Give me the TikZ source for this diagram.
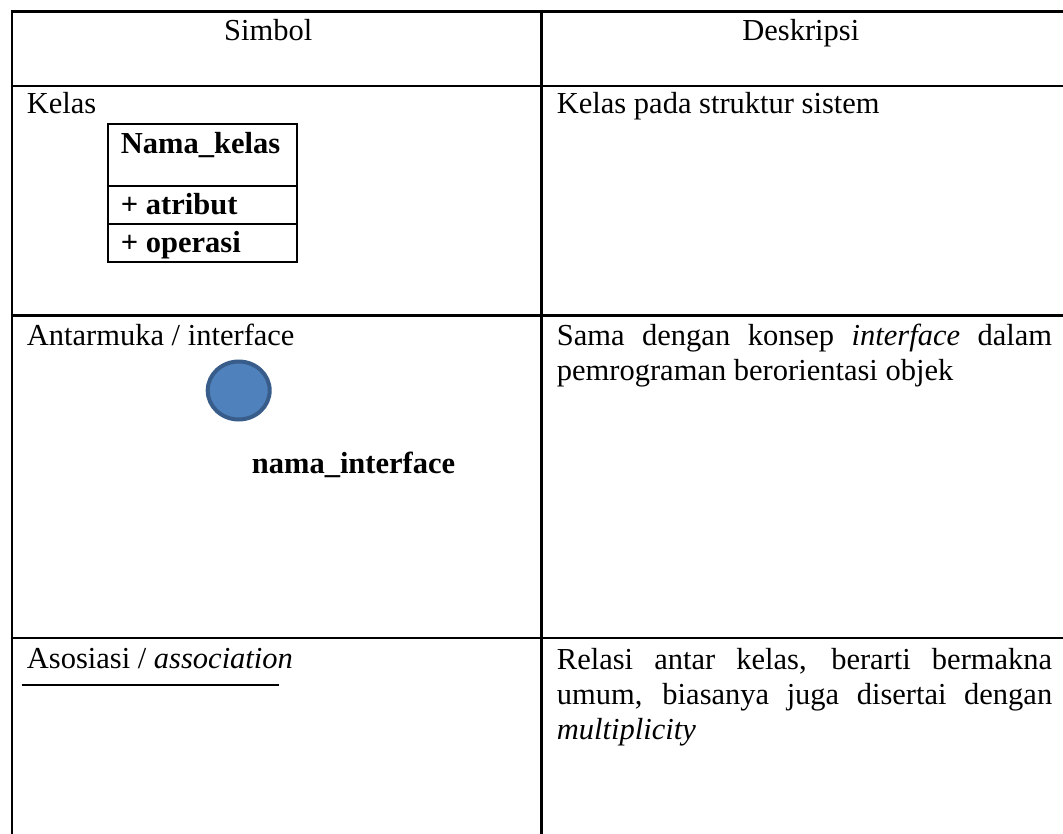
\documentclass[tikz,border=0pt]{standalone}
\usepackage{fontspec}
\setmainfont{Liberation Serif}
\usetikzlibrary{shapes.geometric}
\definecolor{ifill}{HTML}{4F81BD}
\definecolor{iline}{HTML}{385D8A}
\begin{document}
\begin{tikzpicture}[x=1pt,y=-1pt,
  rule/.style={line width=2.6pt},
  clsline/.style={line width=2pt},
  txt/.style={font=\fontsize{30.5}{35}\selectfont, inner sep=0pt, anchor=base west},
  head/.style={txt, anchor=base},
  iface/.style={ellipse, minimum width=62pt, minimum height=58pt, inner sep=0pt,
                draw=iline, fill=ifill, line width=4pt}
]
\useasboundingbox (0,0) rectangle (1063,834);

% table rules (open on the right and at the bottom)
\draw[rule] (12,9.9) -- (12,834);
\draw[rule] (541.3,9.9) -- (541.3,834);
\foreach \yy in {11.3,86.2,315.7,637.8}
  \draw[rule] (10.7,\yy) -- (1063,\yy);

% header
\node[head] (hsym) at (268.3,40.7) {Simbol};
\node[head] (hdesc) at (800.8,40.7) {Deskripsi};

% row 1: class
\node[txt] (kelas) at (26.7,114) {Kelas};
\node[txt] (kelasd) at (556.7,114) {Kelas pada struktur sistem};
\coordinate (cTL) at (107.5,124.3);
\coordinate (cBR) at (296.7,261.7);
\draw[clsline] (cTL) rectangle (cBR);
\draw[clsline] (cTL |- 0,185.8) -- (cBR |- 0,185.8);
\draw[clsline] (cTL |- 0,224) -- (cBR |- 0,224);
\node[txt] (cname) at (120.7,154) {\textbf{Nama\_kelas}};
\node[txt] (cattr) at (120.7,215) {\textbf{+ atribut}};
\node[txt] (cop) at (120.7,253) {\textbf{+ operasi}};

% row 2: interface
\node[txt] (antar) at (26.7,345) {Antarmuka / interface};
\node[iface] (circ) at (238.7,390.5) {};
\node[txt] (iname) at (251.7,473) {\textbf{nama\_interface}};
\node[txt] (antard1) at (556.7,345) {\makebox[495.3pt][s]{Sama dengan konsep \textit{interface} dalam}};
\node[txt] (antard2) at (556.7,380) {pemrograman berorientasi objek};

% row 3: association
\node[txt] (asos) at (26.7,668) {Asosiasi / \textit{association}};
\coordinate (l1) at (21.7,685);
\coordinate (l2) at (279,685);
\draw[clsline] (l1) -- (l2);
\node[txt] (asosd1) at (556.7,669) {\makebox[495.3pt][s]{Relasi antar kelas, berarti bermakna}};
\node[txt] (asosd2) at (556.7,704) {\makebox[495.3pt][s]{umum, biasanya juga disertai dengan}};
\node[txt] (asosd3) at (556.7,739) {\textit{multiplicity}};
\end{tikzpicture}
\end{document}
